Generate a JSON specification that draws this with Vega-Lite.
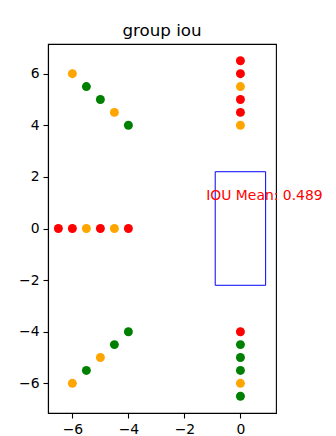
{
  "$schema": "https://vega.github.io/schema/vega-lite/v6.json",
  "autosize": "none",
  "width": 228,
  "height": 369,
  "padding": {"left": 48, "top": 44, "right": 60, "bottom": 23},
  "background": "white",
  "title": {
    "text": "group iou",
    "font": "DejaVu Sans",
    "fontSize": 16.7,
    "fontWeight": "normal",
    "color": "black",
    "anchor": "middle",
    "frame": "group",
    "baseline": "alphabetic",
    "offset": -9
  },
  "config": {
    "view": {"stroke": "black", "strokeWidth": 1.1},
    "axis": {
      "grid": false,
      "title": null,
      "labelFont": "DejaVu Sans",
      "labelFontSize": 13.9,
      "labelColor": "black",
      "tickColor": "black",
      "domainColor": "black",
      "tickSize": 5,
      "tickWidth": 1.1,
      "domainWidth": 1.1,
      "labelPadding": 4
    }
  },
  "datasets": {
    "pts": [
      {"x": -6, "y": 6, "c": "orange"},
      {"x": -5.5, "y": 5.5, "c": "green"},
      {"x": -5, "y": 5, "c": "green"},
      {"x": -4.5, "y": 4.5, "c": "orange"},
      {"x": -4, "y": 4, "c": "green"},
      {"x": -6.5, "y": 0, "c": "red"},
      {"x": -6, "y": 0, "c": "red"},
      {"x": -5.5, "y": 0, "c": "orange"},
      {"x": -5, "y": 0, "c": "red"},
      {"x": -4.5, "y": 0, "c": "orange"},
      {"x": -4, "y": 0, "c": "red"},
      {"x": -6, "y": -6, "c": "orange"},
      {"x": -5.5, "y": -5.5, "c": "green"},
      {"x": -5, "y": -5, "c": "orange"},
      {"x": -4.5, "y": -4.5, "c": "green"},
      {"x": -4, "y": -4, "c": "green"},
      {"x": 0, "y": 6.5, "c": "red"},
      {"x": 0, "y": 6, "c": "red"},
      {"x": 0, "y": 5.5, "c": "orange"},
      {"x": 0, "y": 5, "c": "red"},
      {"x": 0, "y": 4.5, "c": "red"},
      {"x": 0, "y": 4, "c": "orange"},
      {"x": 0, "y": -4, "c": "red"},
      {"x": 0, "y": -4.5, "c": "green"},
      {"x": 0, "y": -5, "c": "green"},
      {"x": 0, "y": -5.5, "c": "green"},
      {"x": 0, "y": -6, "c": "orange"},
      {"x": 0, "y": -6.5, "c": "green"}
    ],
    "box": [{"x": -0.9, "x2": 0.9, "y": -2.2, "y2": 2.2}],
    "label": [{"x": -1.22, "y": 1.1, "t": "IOU Mean: 0.489"}]
  },
  "layer": [
    {
      "data": {"name": "box"},
      "mark": {"type": "rect", "fill": null, "fillOpacity": 0, "stroke": "#0000ff", "strokeWidth": 1},
      "encoding": {
        "x": {"field": "x", "type": "quantitative", "scale": {"domain": [-6.87, 1.27], "nice": false, "zero": false}, "axis": {"values": [-6, -4, -2, 0]}},
        "x2": {"field": "x2"},
        "y": {"field": "y", "type": "quantitative", "scale": {"domain": [-7.15, 7.15], "nice": false, "zero": false}, "axis": {"values": [-6, -4, -2, 0, 2, 4, 6]}},
        "y2": {"field": "y2"}
      }
    },
    {
      "data": {"name": "pts"},
      "mark": {"type": "circle", "size": 80, "opacity": 1},
      "encoding": {
        "x": {"field": "x", "type": "quantitative"},
        "y": {"field": "y", "type": "quantitative"},
        "color": {"field": "c", "type": "nominal", "scale": {"domain": ["red", "orange", "green"], "range": ["#ff0000", "#ffa500", "#008000"]}, "legend": null}
      }
    },
    {
      "data": {"name": "label"},
      "mark": {"type": "text", "align": "left", "baseline": "alphabetic", "font": "DejaVu Sans", "fontSize": 13.9, "color": "#ff0000"},
      "encoding": {
        "x": {"field": "x", "type": "quantitative"},
        "y": {"field": "y", "type": "quantitative"},
        "text": {"field": "t"}
      }
    }
  ]
}
